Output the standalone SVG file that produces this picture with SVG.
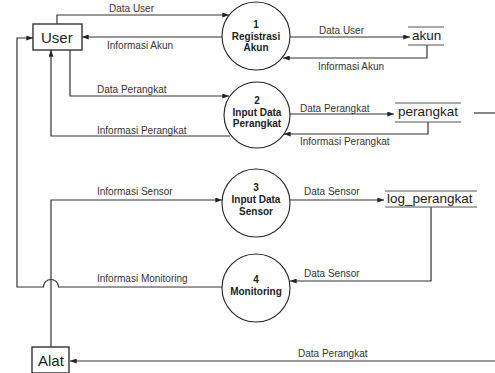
<svg xmlns="http://www.w3.org/2000/svg" width="495" height="373" viewBox="0 0 495 373">
  <style>
    .entity { fill: #fff; stroke: #333; stroke-width: 1.4; }
    .process { fill: #fff; stroke: #222; stroke-width: 1.1; }
    .store { stroke: #555; stroke-width: 1.2; }
    .flow { fill: none; stroke: #333; stroke-width: 1.2; }
    .big { font-family: "Liberation Sans", Arial, sans-serif; font-size: 15px; fill: #222; }
    .storetxt { font-family: "Liberation Sans", Arial, sans-serif; font-size: 13.5px; fill: #222; }
    .ptxt { font-family: "Liberation Sans", Arial, sans-serif; font-size: 10px; font-weight: bold; fill: #222; text-anchor: middle; }
    .lbl { font-family: "Liberation Sans", Arial, sans-serif; font-size: 10px; fill: #333; }
  </style>
  <defs>
    <marker id="arrow" viewBox="0 0 8 6" refX="8" refY="3" markerWidth="7" markerHeight="5" markerUnits="userSpaceOnUse" orient="auto">
      <path d="M0,0 L8,3 L0,6 Z" fill="#222"/>
    </marker>
  </defs>
  <rect width="495" height="373" fill="#fff"/>

  <!-- data flows -->
  <g id="connectors">
    <path class="flow" d="M57,24 V15 H229" marker-end="url(#arrow)"/>
    <path class="flow" d="M223,37 H82" marker-end="url(#arrow)"/>
    <path class="flow" d="M70,50 V96 H229" marker-end="url(#arrow)"/>
    <path class="flow" d="M230,136 H51 V50" marker-end="url(#arrow)"/>
    <path class="flow" d="M51,347 V200 H222" marker-end="url(#arrow)"/>
    <path class="flow" d="M222,287 H58.5 A7.5,7.5 0 0 0 43.5,287 H17 V38 H33" marker-end="url(#arrow)"/>
    <path class="flow" d="M290,37 H410" marker-end="url(#arrow)"/>
    <path class="flow" d="M427,45 V58 H283" marker-end="url(#arrow)"/>
    <path class="flow" d="M290,114 H394" marker-end="url(#arrow)"/>
    <path class="flow" d="M428,122 V134 H284" marker-end="url(#arrow)"/>
    <path class="flow" d="M290,200 H384" marker-end="url(#arrow)"/>
    <path class="flow" d="M431,207 V281 H290" marker-end="url(#arrow)"/>
    <path class="flow" d="M474,113 H495"/>
    <path class="flow" d="M495,361 H70" marker-end="url(#arrow)"/>

    <text class="lbl" x="109" y="12">Data User</text>
    <text class="lbl" x="107" y="49">Informasi Akun</text>
    <text class="lbl" x="97" y="93">Data Perangkat</text>
    <text class="lbl" x="97" y="134">Informasi Perangkat</text>
    <text class="lbl" x="97" y="195">Informasi Sensor</text>
    <text class="lbl" x="97" y="282">Informasi Monitoring</text>
    <text class="lbl" x="319" y="34">Data User</text>
    <text class="lbl" x="318" y="70">Informasi Akun</text>
    <text class="lbl" x="300" y="112">Data Perangkat</text>
    <text class="lbl" x="300" y="145">Informasi Perangkat</text>
    <text class="lbl" x="304" y="195">Data Sensor</text>
    <text class="lbl" x="304" y="277">Data Sensor</text>
    <text class="lbl" x="298" y="357">Data Perangkat</text>
  </g>

  <!-- external entities -->
  <g id="user">
    <rect class="entity" x="33" y="24" width="49" height="26"/>
    <text class="big" x="41" y="43">User</text>
  </g>
  <g id="alat">
    <rect class="entity" x="32" y="347" width="37" height="26"/>
    <text class="big" x="38" y="366">Alat</text>
  </g>

  <!-- processes -->
  <g id="p1">
    <circle class="process" cx="256" cy="36" r="34"/>
    <text class="ptxt" x="256" y="28">1</text>
    <text class="ptxt" x="256" y="40">Registrasi</text>
    <text class="ptxt" x="256" y="51">Akun</text>
  </g>
  <g id="p2">
    <circle class="process" cx="257" cy="115" r="33"/>
    <text class="ptxt" x="257" y="104">2</text>
    <text class="ptxt" x="257" y="116">Input Data</text>
    <text class="ptxt" x="257" y="127">Perangkat</text>
  </g>
  <g id="p3">
    <circle class="process" cx="256" cy="203" r="34"/>
    <text class="ptxt" x="256" y="191">3</text>
    <text class="ptxt" x="256" y="203">Input Data</text>
    <text class="ptxt" x="256" y="215">Sensor</text>
  </g>
  <g id="p4">
    <circle class="process" cx="256" cy="288" r="34"/>
    <text class="ptxt" x="256" y="283">4</text>
    <text class="ptxt" x="256" y="295">Monitoring</text>
  </g>

  <!-- data stores -->
  <g id="akun">
    <line class="store" x1="408" y1="27" x2="444" y2="27"/>
    <line class="store" x1="408" y1="45" x2="444" y2="45"/>
    <text class="storetxt" x="412" y="40">akun</text>
  </g>
  <g id="perangkat">
    <line class="store" x1="395" y1="103" x2="461" y2="103"/>
    <line class="store" x1="395" y1="122" x2="461" y2="122"/>
    <text class="storetxt" x="398" y="116">perangkat</text>
  </g>
  <g id="log_perangkat">
    <line class="store" x1="385" y1="191" x2="477" y2="191"/>
    <line class="store" x1="385" y1="207" x2="477" y2="207"/>
    <text class="storetxt" x="387" y="203">log_perangkat</text>
  </g>
</svg>
